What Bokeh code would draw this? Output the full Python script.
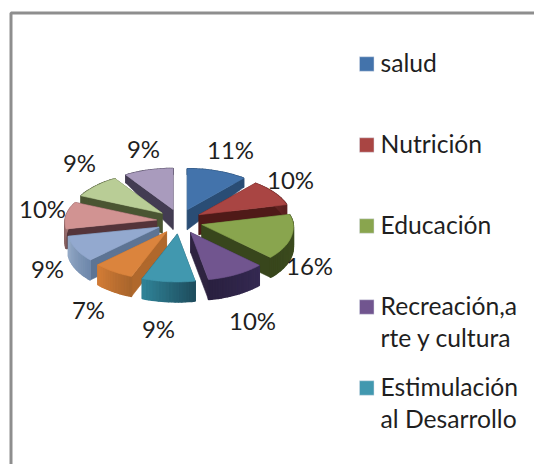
import math
from bokeh.plotting import figure
from bokeh.models import Range1d
from bokeh.core.properties import value
from bokeh.embed import file_html
from bokeh.resources import INLINE

# ---- data
values = [11, 10, 16, 10, 9, 7, 9, 10, 9, 9]
legend_labels = ["salud", "Nutrición", "Educación", ["Recreación,a", "rte y cultura"], ["Estimulación", "al Desarrollo"]]

# ---- style
top_colors = ["#4373AB", "#A94543", "#89A54E", "#71558F", "#4198AF", "#DB843D", "#93A9CF", "#D19392", "#B9CD96", "#A99BBD"]
side_colors = ["#2A4D75", "#4F1A18", "#38461C", "#2E2340", "#1F4D5E", "#B0682C", "#5D7494", "#54343A", "#4A5532", "#433C52"]
rim_a = ["#2A4D75", "#6E2A28", "#3F5020", "#352A52", "#1F4D5E", "#A9652C", "#6F88AB", "#7D5A5A", "#4A5532", "#433C52"]
rim_b = ["#2A4D75", "#5A2020", "#38461C", "#2A2040", "#2F8296", "#D07B36", "#93A9C6", "#B08080", "#4A5532", "#433C52"]
label_dx = [51, 111, 130, 73, -21, -91, -132, -137, -100, -36]
label_dy = [-72, -42, 44, 99, 107, 88, 47, -13, -59, -73]

CX, CY = 179, 221          # pie centre in page pixels
RX, RX_TILT, R_BACK, R_FRONT = 91.5, 4, 41, 48
EX, EY = 23, 12.5          # explosion
DEPTH = 20

p = figure(width=534, height=464, output_backend="svg", toolbar_location=None,
           x_range=Range1d(0, 534), y_range=Range1d(464, 0), min_border=0)
p.axis.visible = False
p.grid.visible = False
p.outline_line_color = None
p.background_fill_color = "white"

# frame of the chart area (runs off the page at right and bottom)
p.line([10.5, 10.5, 534], [464, 12.5, 12.5], line_color="#8E8E8E", line_width=3)


def hex_mix(a, b, t):
    ca = [int(a[i:i + 2], 16) for i in (1, 3, 5)]
    cb = [int(b[i:i + 2], 16) for i in (1, 3, 5)]
    return "#%02X%02X%02X" % tuple(round(x + (y - x) * t) for x, y in zip(ca, cb))


def rim_point(tx, ty, a):
    c = math.cos(a)
    return tx + (RX - RX_TILT * c) * math.sin(a), ty - (R_BACK if c > 0 else R_FRONT) * c


def depth_at(r, a):
    return DEPTH - 14 * max(0.0, r * math.cos(a))


total = sum(values)
slices = []
acc = 0
for i, v in enumerate(values):
    a0 = 2 * math.pi * acc / total
    acc += v
    a1 = 2 * math.pi * acc / total
    mid = (a0 + a1) / 2
    tx = CX + EX * math.sin(mid)
    ty = CY - EY * math.cos(mid)
    slices.append((i, a0, a1, mid, tx, ty))

xs, ys, cols, widths = [], [], [], []
for i, a0, a1, mid, tx, ty in sorted(slices, key=lambda s: s[5]):
    d_tip = depth_at(0, mid)
    # radial walls
    for a in (a0, a1):
        x, y = rim_point(tx, ty, a)
        xs.append([tx, x, x, tx])
        ys.append([ty, y, y + depth_at(1, a), ty + d_tip])
        cols.append(side_colors[i])
        widths.append(0.6)
    # outer wall, split for shading
    n = max(6, int((a1 - a0) * 30))
    for k in range(n):
        b0 = a0 + (a1 - a0) * k / n
        b1 = a0 + (a1 - a0) * (k + 1) / n
        x0, y0 = rim_point(tx, ty, b0)
        x1, y1 = rim_point(tx, ty, b1)
        xs.append([x0, x1, x1, x0])
        ys.append([y0, y1, y1 + depth_at(1, b1), y0 + depth_at(1, b0)])
        cols.append(hex_mix(rim_a[i], rim_b[i], k / max(1, n - 1)))
        widths.append(1.5)
    # top face
    m = 30
    arc = [rim_point(tx, ty, a0 + (a1 - a0) * k / m) for k in range(m + 1)]
    xs.append([tx] + [q[0] for q in arc])
    ys.append([ty] + [q[1] for q in arc])
    cols.append(top_colors[i])
    widths.append(0.6)

p.patches(xs, ys, fill_color=cols, line_color=cols, line_width=widths)

# percent labels
p.text([CX + d for d in label_dx], [CY + d for d in label_dy], text=[f"{v}%" for v in values],
       text_font=value("Lato"), text_font_size="24px", text_color="#1F1F1F",
       text_align="center", text_baseline="middle")

# legend (clipped in the reference: only the first five entries are visible)
ROW0, ROW_STEP, LINE_H = 63.5, 81, 32
SW = 14.5
for i, lab in enumerate(legend_labels):
    yc = ROW0 + ROW_STEP * i
    p.quad(left=[359], right=[359 + SW], top=[yc - SW / 2], bottom=[yc + SW / 2],
           fill_color=top_colors[i], line_color="#D8DEE8", line_width=0.5)
    lines = lab if isinstance(lab, list) else [lab]
    p.text([380] * len(lines), [yc - 2 + LINE_H * k for k in range(len(lines))], text=lines,
           text_font=value("Lato"), text_font_size="24.7px", text_color="#1F1F1F",
           text_align="left", text_baseline="middle")

open("out.html", "w").write(file_html(p, INLINE))
